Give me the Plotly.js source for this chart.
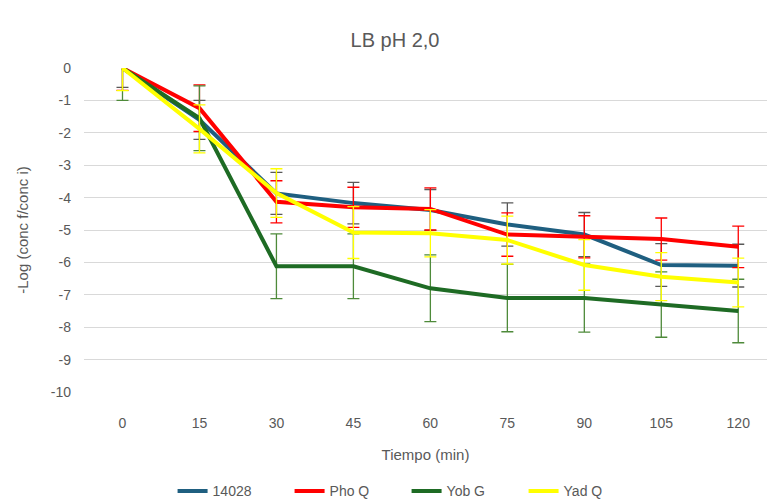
<!DOCTYPE html>
<html>
<head>
<meta charset="utf-8">
<script src="https://cdn.plot.ly/plotly-3.0.1.min.js"></script>
<style>html,body{margin:0;padding:0;background:#fff;}#chart{width:767px;height:504px;}</style>
</head>
<body>
<div id="chart"></div>
<script>
const tiempo = [0, 15, 30, 45, 60, 75, 90, 105, 120];
const seriesNames = ["14028", "Pho Q", "Yob G", "Yad Q"];
const s14028 = [0, -1.6, -3.87, -4.17, -4.38, -4.83, -5.14, -6.08, -6.1];
const sPhoQ  = [0, -1.24, -4.13, -4.3, -4.35, -5.14, -5.21, -5.28, -5.52];
const sYobG  = [0, -1.55, -6.12, -6.12, -6.8, -7.1, -7.1, -7.3, -7.5];
const sYadQ  = [0, -1.88, -3.86, -5.08, -5.1, -5.31, -6.08, -6.44, -6.62];
const e14028 = [0.6, 0.6, 0.65, 0.64, 0.63, 0.67, 0.68, 0.66, 0.66];
const ePhoQ  = [0.69, 0.72, 0.65, 0.62, 0.65, 0.67, 0.65, 0.65, 0.64];
const eYobG  = [1.0, 1.0, 1.0, 1.0, 1.03, 1.04, 1.05, 1.01, 0.98];
const eYadQ  = [0.7, 0.74, 0.75, 0.8, 0.73, 0.74, 0.78, 0.74, 0.75];
const yTicks = [0, -1, -2, -3, -4, -5, -6, -7, -8, -9, -10];

const lineColors = ["#1f5f80", "#ff0000", "#1e6b24", "#ffff00"];
const errColors  = ["#595959", "#ff0000", "#4e8a3a", "#ffff00"];
const values = [s14028, sPhoQ, sYobG, sYadQ];
const errs = [e14028, ePhoQ, eYobG, eYadQ];

const traces = values.map((v, i) => ({
  type: 'scatter', mode: 'lines', name: seriesNames[i],
  x: tiempo, y: v,
  line: {color: lineColors[i], width: 4},
  error_y: {type: 'data', array: errs[i], visible: true, color: errColors[i], thickness: 1.3, width: 6}
}));

const font = "Liberation Sans, Arial, sans-serif";
const layout = {
  width: 767, height: 504,
  margin: {l: 84, r: 0, t: 68, b: 112, autoexpand: false},
  paper_bgcolor: '#fff', plot_bgcolor: '#fff',
  font: {family: font, color: '#595959', size: 14},
  title: {text: 'LB pH 2,0', x: 0.515, xref: 'container', y: 0.92, yanchor: 'middle', font: {size: 20, color: '#595959', family: font}},
  xaxis: {
    range: [-7.5, 125.6], tickvals: tiempo, ticktext: tiempo.map(String),
    showgrid: false, zeroline: false, showline: false, ticks: '', automargin: false,
    tickfont: {size: 14, color: '#595959'}, ticklabelstandoff: 21,
    title: {text: 'Tiempo (min)', font: {size: 15, color: '#595959'}, standoff: 19}
  },
  yaxis: {
    range: [-10, 0], tickvals: yTicks, ticktext: yTicks.map(String), automargin: false,
    showgrid: true, gridcolor: '#d9d9d9', gridwidth: 1, zeroline: false, showline: false, ticks: '',
    tickfont: {size: 14, color: '#595959'}, ticklabelstandoff: 12,
    title: {text: '-Log (conc f/conc i)', font: {size: 15, color: '#595959'}, standoff: 18}
  },
  legend: {orientation: 'h', xref: 'container', yref: 'container', x: 0.225, xanchor: 'left', y: 0.025, yanchor: 'middle',
    font: {size: 14, color: '#595959'}, entrywidth: 72, entrywidthmode: 'pixels'},
  showlegend: true
};
Plotly.newPlot('chart', traces, layout, {displayModeBar: false, staticPlot: true});
</script>
</body>
</html>
